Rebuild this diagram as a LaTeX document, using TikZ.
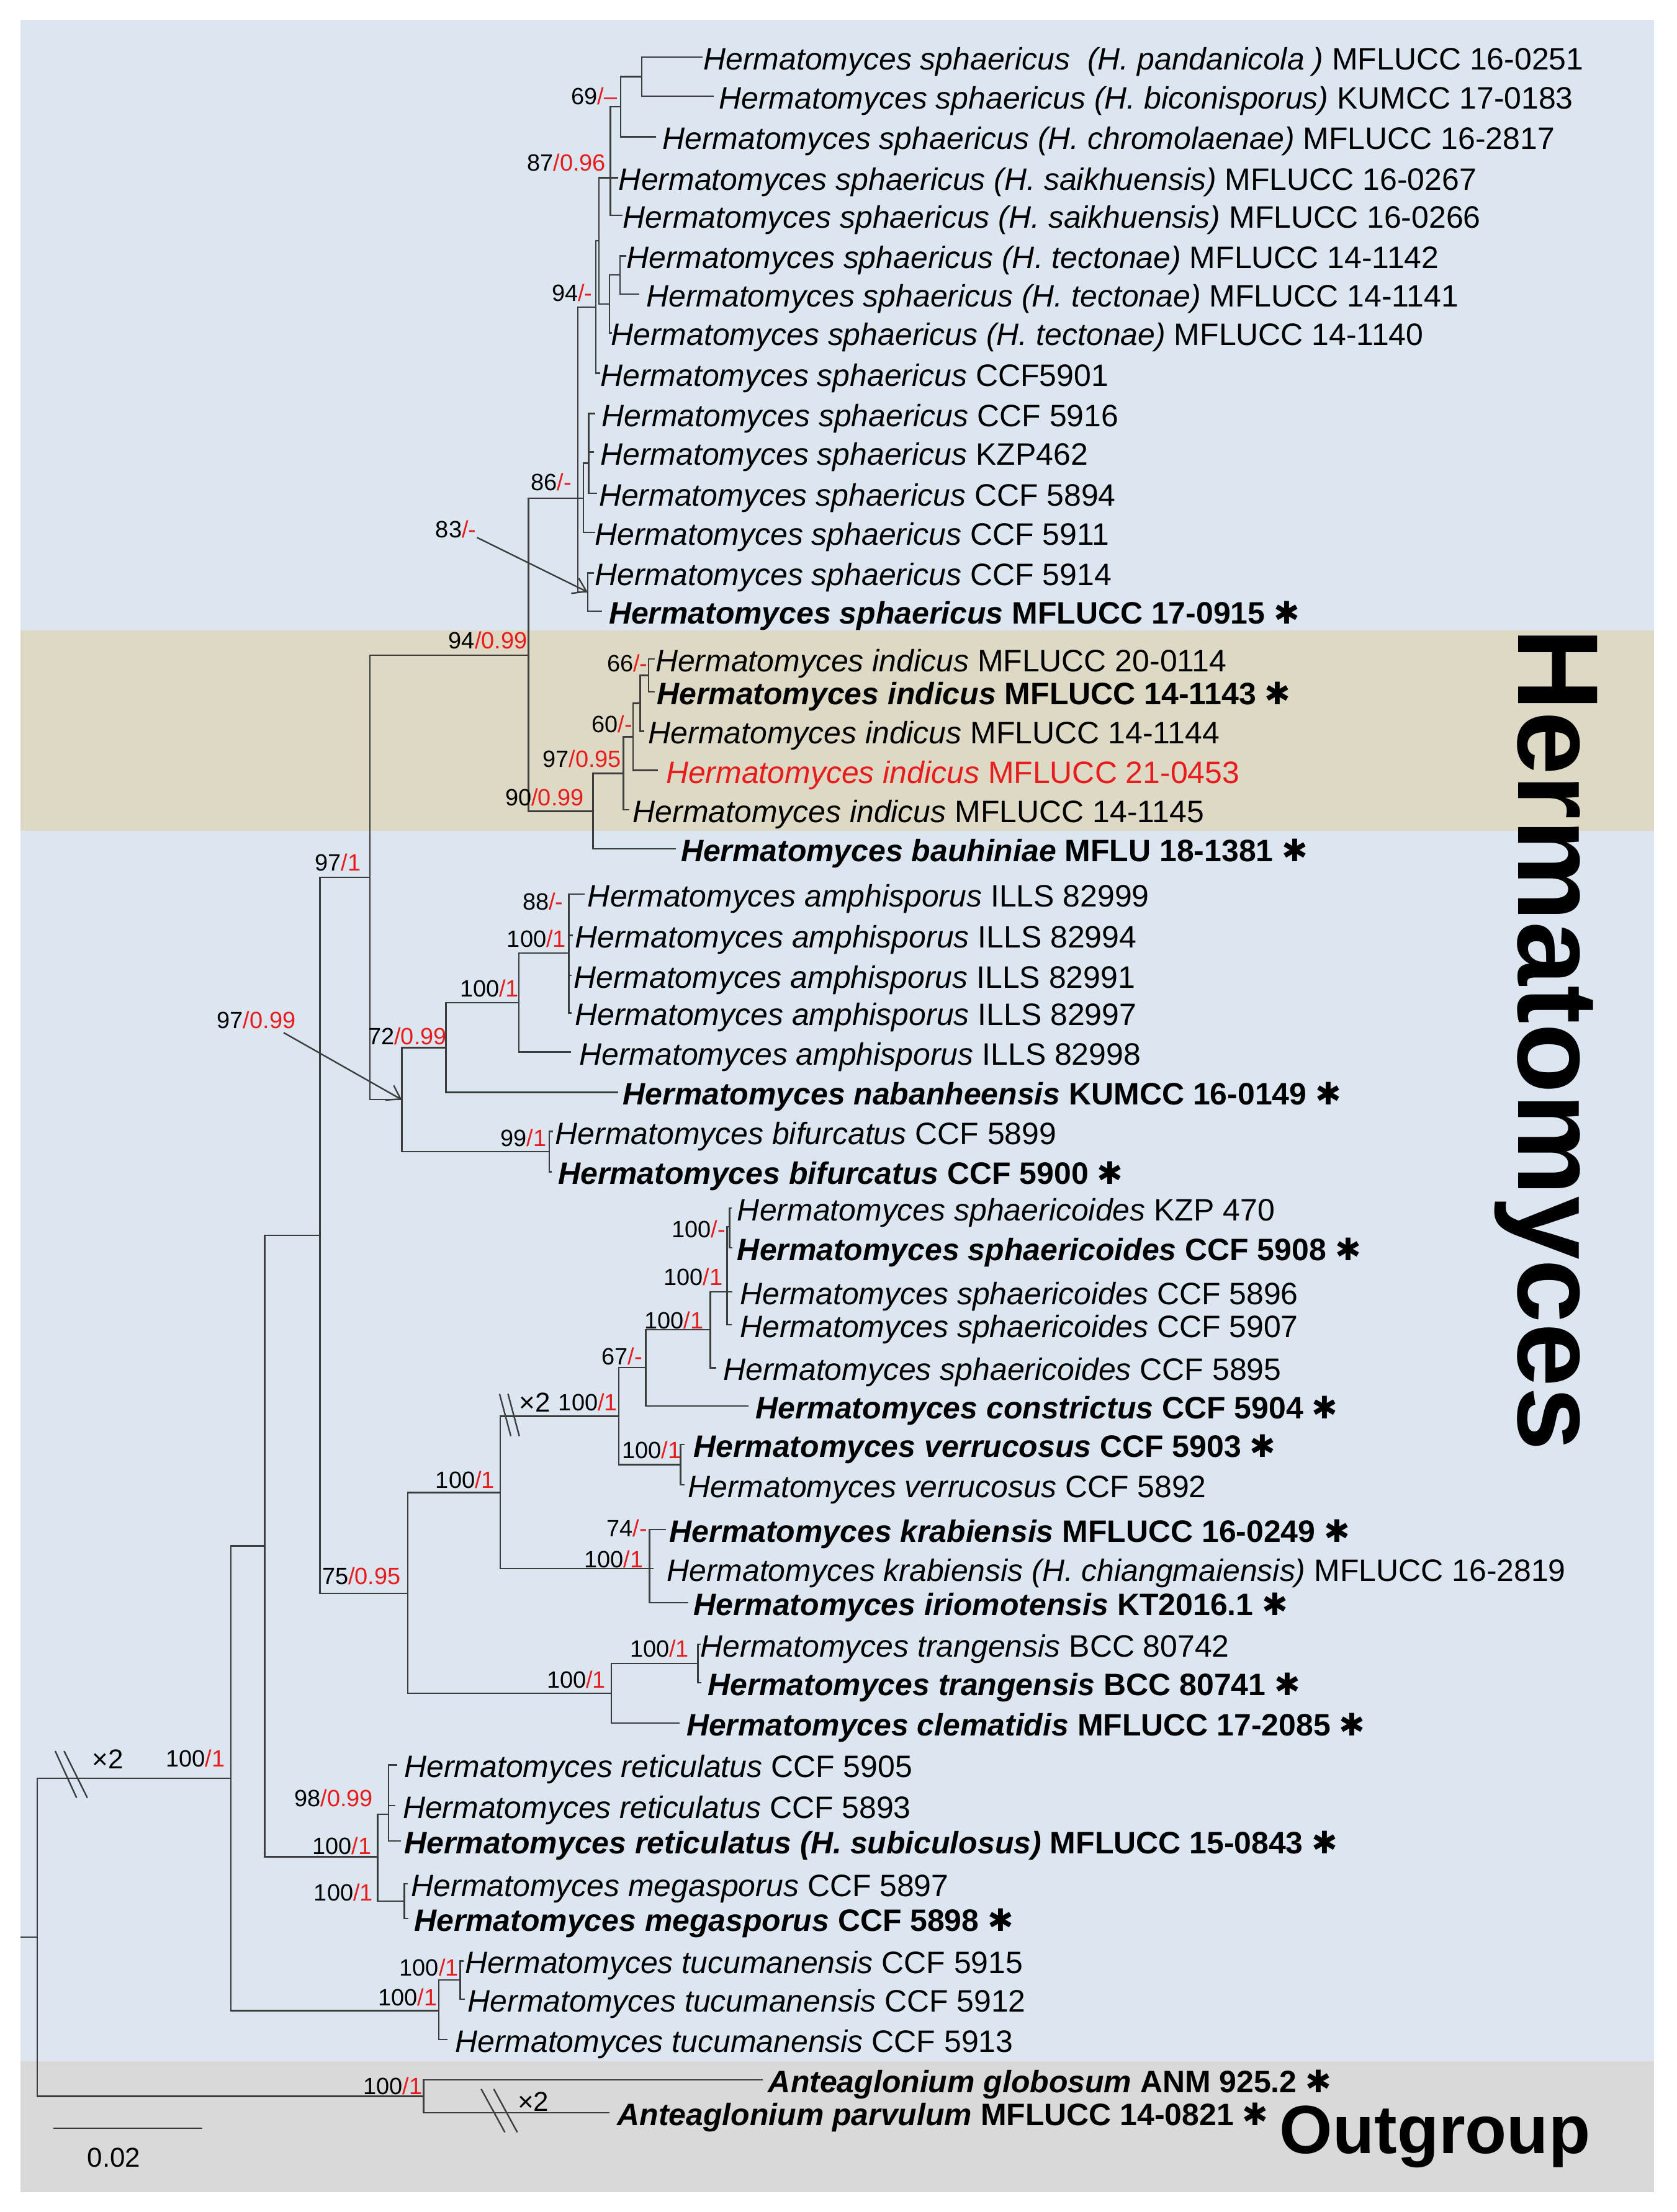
\documentclass[tikz,border=0pt]{standalone}
\usepackage{fontspec}
\setmainfont{Liberation Sans}
\newfontfamily\djv{DejaVu Sans}
\usetikzlibrary{arrows.meta}
\definecolor{bgblue}{RGB}{220,230,241}
\definecolor{bgtan}{RGB}{221,217,196}
\definecolor{bggrey}{RGB}{217,217,217}
\definecolor{tline}{RGB}{60,60,60}
\definecolor{supred}{RGB}{232,28,28}
\newcommand\tnode[4]{\coordinate (#1) at (#3,#4); \draw[br] (#1) -| (#2);}
\newcommand\tleaf[6]{\coordinate (#1) at (#3,#4); \draw[br] (#1) -| (#2); \node[tx,anchor=base west] (#1t) at ({#5-1.5},{#4+9}) {#6};}
\newcommand\tsup[5]{\node[sup,anchor=base east] (#1) at ({#2+0.5},{#3+6}) {#4\textcolor{supred}{#5}};}
\newcommand\tnorm[2]{\textit{#1} #2}
\newcommand\tbold[2]{\textbf{\textit{#1} #2} {\djv ✱}}
\begin{document}
\begin{tikzpicture}[x=0.02cm,y=-0.02cm,
  br/.style={draw=tline,line width=0.6pt},
  tx/.style={font=\fontsize{12.5}{15}\selectfont,inner sep=0,outer sep=0},
  sup/.style={font=\fontsize{9.5}{11}\selectfont,inner sep=0,outer sep=0},
  xs/.style={font=\fontsize{11}{13}\selectfont,inner sep=0,outer sep=0},
  arr/.style={draw=tline,line width=0.6pt,-{Straight Barb[length=1.8mm,width=2.4mm]}}]
\useasboundingbox (0,0) rectangle (1188,1568);
% backgrounds
\fill[bgblue] (14.4,14) rectangle (1172,1461);
\fill[bgtan] (14.4,447) rectangle (1172,589);
\fill[bggrey] (14.4,1461) rectangle (1172,1553.8);
% tree internal nodes
\coordinate (R) at (26.5,1373.2);
\coordinate (stub) at (14.4,1373.2);
\draw[br] (stub) -- (R);
\tnode{A}{R}{163.6}{1260.55}
\tnode{O}{R}{300.1}{1485.9}
\tnode{B}{A}{187.6}{1095.9}
\tnode{T1}{A}{311}{1425.2}
\tnode{T2}{T1}{326.2}{1403.55}
\tnode{C}{B}{226.8}{875.6}
\tnode{RM}{B}{267.6}{1316.2}
\tnode{RT}{RM}{275.2}{1286}
\tnode{MG}{RM}{286.5}{1347.65}
\tnode{D}{C}{262.2}{621.9}
\tnode{K}{C}{289}{1129.35}
\tnode{G}{D}{374.5}{464.35}
\tnode{E}{D}{284.7}{779.5}
\tnode{Nf}{G}{409.5}{353.3}
\tnode{I}{G}{420.2}{575.05}
\tnode{Ne}{Nf}{422.2}{217.65}
\tnode{Ng}{Nf}{413.4}{353.3}
\tnode{N83}{Nf}{416.4}{419.65}
\tnode{Na}{Ne}{424.4}{170.7}
\tnode{Nb}{Na}{432.5}{126}
\tnode{Nc}{Na}{431.8}{215.4}
\tnode{N69}{Nb}{439.8}{75.6}
\tnode{Ntop}{N69}{454.8}{54.3}
\tnode{Nd}{Nc}{439.4}{194.9}
\tnode{Nh}{Ng}{417.1}{328.4}
\tnode{J}{I}{441.8}{548.2}
\tnode{Kx}{J}{448.6}{522.3}
\tnode{Lx}{Kx}{453.6}{498.5}
\tnode{N66}{Lx}{459.5}{478.7}
\tnode{P}{E}{316.1}{742.65}
\tnode{Bif}{E}{389.2}{816.35}
\tnode{Q}{P}{367.6}{710.65}
\tnode{Amph}{Q}{403.1}{675.5}
\tnode{L}{K}{354.6}{1058}
\tnode{TC}{K}{433.1}{1200.4}
\tnode{V}{L}{438.6}{1003.9}
\tnode{M}{L}{460.2}{1112}
\tnode{S1}{V}{457.7}{969.25}
\tnode{Verr}{V}{482.2}{1038.25}
\tnode{S2}{S1}{503.4}{942.6}
\tnode{S3}{S2}{515.2}{915.6}
\tnode{S3a}{S3}{517}{869.45}
\tnode{Tr}{TC}{494.6}{1179.1}
% leaves
\tleaf{l1}{Ntop}{497.7}{40.4}{500}{\tnorm{Hermatomyces sphaericus\ \ (H. pandanicola\ )}{MFLUCC 16-0251}}
\tleaf{l2}{Ntop}{505.8}{68.2}{511}{\tnorm{Hermatomyces sphaericus (H. biconisporus)}{KUMCC 17-0183}}
\tleaf{l3}{N69}{464.7}{96.9}{471}{\tnorm{Hermatomyces sphaericus (H. chromolaenae)}{MFLUCC 16-2817}}
\tleaf{l4}{Nb}{438}{126}{440}{\tnorm{Hermatomyces sphaericus (H. saikhuensis)}{MFLUCC 16-0267}}
\tleaf{l5}{Nb}{441}{152.7}{443}{\tnorm{Hermatomyces sphaericus (H. saikhuensis)}{MFLUCC 16-0266}}
\tleaf{l6}{Nd}{444}{181.4}{445.5}{\tnorm{Hermatomyces sphaericus (H. tectonae)}{MFLUCC 14-1142}}
\tleaf{l7}{Nd}{453}{208.4}{459.5}{\tnorm{Hermatomyces sphaericus (H. tectonae)}{MFLUCC 14-1141}}
\tleaf{l8}{Nc}{433.5}{235.9}{434.5}{\tnorm{Hermatomyces sphaericus (H. tectonae)}{MFLUCC 14-1140}}
\tleaf{l9}{Ne}{425.5}{264.6}{427}{\tnorm{Hermatomyces sphaericus}{CCF5901}}
\tleaf{l10}{Nh}{422}{293.2}{428}{\tnorm{Hermatomyces sphaericus}{CCF 5916}}
\tleaf{l11}{Nh}{421}{320.5}{427}{\tnorm{Hermatomyces sphaericus}{KZP462}}
\tleaf{l12}{Nh}{423}{349.6}{426}{\tnorm{Hermatomyces sphaericus}{CCF 5894}}
\tleaf{l13}{Ng}{422}{377.5}{423}{\tnorm{Hermatomyces sphaericus}{CCF 5911}}
\tleaf{l14}{N83}{421}{406.1}{423}{\tnorm{Hermatomyces sphaericus}{CCF 5914}}
\tleaf{l15}{N83}{426.6}{433.2}{433}{\tbold{Hermatomyces sphaericus}{MFLUCC 17-0915}}
\tleaf{l16}{N66}{464}{467}{466}{\tnorm{Hermatomyces indicus}{MFLUCC 20-0114}}
\tleaf{l17}{N66}{464}{490.4}{467}{\tbold{Hermatomyces indicus}{MFLUCC 14-1143}}
\tleaf{l18}{Lx}{456.6}{518.3}{461}{\tnorm{Hermatomyces indicus}{MFLUCC 14-1144}}
\tleaf{l19}{Kx}{466.3}{546.1}{473.5}{\textcolor{supred}{\tnorm{Hermatomyces indicus}{MFLUCC 21-0453}}}
\tleaf{l20}{J}{446}{574}{450}{\tnorm{Hermatomyces indicus}{MFLUCC 14-1145}}
\tleaf{l21}{I}{479.1}{601.8}{484}{\tbold{Hermatomyces bauhiniae}{MFLU 18-1381}}
\tleaf{l22}{Amph}{414.2}{633.9}{418}{\tnorm{Hermatomyces amphisporus}{ILLS 82999}}
\tleaf{l23}{Amph}{406}{663}{409}{\tnorm{Hermatomyces amphisporus}{ILLS 82994}}
\tleaf{l24}{Amph}{405}{691.5}{408}{\tnorm{Hermatomyces amphisporus}{ILLS 82991}}
\tleaf{l25}{Amph}{405}{718}{409}{\tnorm{Hermatomyces amphisporus}{ILLS 82997}}
\tleaf{l26}{Q}{404.5}{745.8}{412}{\tnorm{Hermatomyces amphisporus}{ILLS 82998}}
\tleaf{l27}{P}{437.9}{774.3}{443}{\tbold{Hermatomyces nabanheensis}{KUMCC 16-0149}}
\tleaf{l28}{Bif}{392}{802.1}{395}{\tnorm{Hermatomyces bifurcatus}{CCF 5899}}
\tleaf{l29}{Bif}{391}{830.6}{397}{\tbold{Hermatomyces bifurcatus}{CCF 5900}}
\tleaf{l30}{S3a}{518.6}{856.4}{524}{\tnorm{Hermatomyces sphaericoides}{KZP 470}}
\tleaf{l31}{S3a}{519}{884.5}{524}{\tbold{Hermatomyces sphaericoides}{CCF 5908}}
\tleaf{l32}{S3}{519}{915.6}{526}{\tnorm{Hermatomyces sphaericoides}{CCF 5896}}
\tleaf{l33}{S3}{518.6}{939}{526}{\tnorm{Hermatomyces sphaericoides}{CCF 5907}}
\tleaf{l34}{S2}{507.4}{969.6}{514}{\tnorm{Hermatomyces sphaericoides}{CCF 5895}}
\tleaf{l35}{S1}{530.3}{996.7}{537}{\tbold{Hermatomyces constrictus}{CCF 5904}}
\tleaf{l36}{Verr}{485.2}{1024}{493}{\tbold{Hermatomyces verrucosus}{CCF 5903}}
\tleaf{l37}{Verr}{485}{1052.5}{489}{\tnorm{Hermatomyces verrucosus}{CCF 5892}}
\tleaf{l38}{M}{472}{1084.2}{476}{\tbold{Hermatomyces krabiensis}{MFLUCC 16-0249}}
\tleaf{l39}{M}{463}{1112}{474}{\tnorm{Hermatomyces krabiensis (H. chiangmaiensis)}{MFLUCC 16-2819}}
\tleaf{l40}{M}{487.7}{1136.2}{493}{\tbold{Hermatomyces iriomotensis}{KT2016.1}}
\tleaf{l41}{Tr}{496.5}{1165.5}{498}{\tnorm{Hermatomyces trangensis}{BCC 80742}}
\tleaf{l42}{Tr}{497}{1192.7}{503}{\tbold{Hermatomyces trangensis}{BCC 80741}}
\tleaf{l43}{TC}{481.8}{1221.3}{488}{\tbold{Hermatomyces clematidis}{MFLUCC 17-2085}}
\tleaf{l44}{RT}{281.5}{1251}{288}{\tnorm{Hermatomyces reticulatus}{CCF 5905}}
\tleaf{l45}{RT}{280}{1280}{287}{\tnorm{Hermatomyces reticulatus}{CCF 5893}}
\tleaf{l46}{RT}{284}{1305}{288}{\tbold{Hermatomyces reticulatus (H. subiculosus)}{MFLUCC 15-0843}}
\tleaf{l47}{MG}{289}{1335.3}{293}{\tnorm{Hermatomyces megasporus}{CCF 5897}}
\tleaf{l48}{MG}{289.5}{1360}{295}{\tbold{Hermatomyces megasporus}{CCF 5898}}
\tleaf{l49}{T2}{328.5}{1390}{331}{\tnorm{Hermatomyces tucumanensis}{CCF 5915}}
\tleaf{l50}{T2}{329.5}{1417.1}{333}{\tnorm{Hermatomyces tucumanensis}{CCF 5912}}
\tleaf{l51}{T1}{317}{1445.6}{324}{\tnorm{Hermatomyces tucumanensis}{CCF 5913}}
\tleaf{l52}{O}{540.4}{1474.2}{546}{\tbold{Anteaglonium globosum}{ANM 925.2}}
\tleaf{l53}{O}{432}{1497.6}{439}{\tbold{Anteaglonium parvulum}{MFLUCC 14-0821}}
% support values
\tsup{s1}{436.9}{67.9}{69}{/--}
\tsup{s2}{428.8}{115}{87}{/0.96}
\tsup{s3}{419.3}{207.7}{94}{/-}
\tsup{s4}{404.6}{341.6}{86}{/-}
\tsup{s5}{337}{375}{83}{/-}
\tsup{s6}{373.1}{453.8}{94}{/0.99}
\tsup{s7}{458.5}{469.9}{66}{/-}
\tsup{s8}{447.7}{513.1}{60}{/-}
\tsup{s9}{439.8}{538}{97}{/0.95}
\tsup{s10}{413.3}{565.2}{90}{/0.99}
\tsup{s11}{255.3}{611.4}{97}{/1}
\tsup{s12}{398.6}{639}{88}{/-}
\tsup{s13}{400.6}{665.5}{100}{/1}
\tsup{s14}{367.2}{700.5}{100}{/1}
\tsup{s15}{316.1}{734.5}{72}{/0.99}
\tsup{s16}{386.8}{806.5}{99}{/1}
\tsup{s17}{209}{723}{97}{/0.99}
\tsup{s18}{513.7}{871.2}{100}{/-}
\tsup{s19}{511.7}{905.1}{100}{/1}
\tsup{s20}{497.9}{936}{100}{/1}
\tsup{s21}{454.7}{961.5}{67}{/-}
\tsup{s22}{437.1}{993.8}{100}{/1}
\tsup{s23}{482.2}{1027.8}{100}{/1}
\tsup{s24}{350}{1049}{100}{/1}
\tsup{s25}{458.3}{1083.4}{74}{/-}
\tsup{s26}{455.3}{1105.4}{100}{/1}
\tsup{s27}{283.5}{1117.2}{75}{/0.95}
\tsup{s28}{487.7}{1168.5}{100}{/1}
\tsup{s29}{428.8}{1190.5}{100}{/1}
\tsup{s30}{159}{1246.6}{100}{/1}
\tsup{s31}{263.8}{1274.4}{98}{/0.99}
\tsup{s32}{262.6}{1308.3}{100}{/1}
\tsup{s33}{263.8}{1341.5}{100}{/1}
\tsup{s34}{324.4}{1394.7}{100}{/1}
\tsup{s35}{309.3}{1415.6}{100}{/1}
\tsup{s36}{298.7}{1478.6}{100}{/1}
% arrows from labels
\coordinate (a1s) at (338,381);
\draw[arr] (a1s) -- (N83);
\coordinate (a2s) at (201,732);
\draw[arr] (a2s) -- (E);
% break marks
\draw[br] (39.1,1241.2) -- (54.3,1274.4);
\draw[br] (45.4,1241.2) -- (61.9,1274.4);
\draw[br] (341,1480.8) -- (357.8,1511.5);
\draw[br] (349.9,1480.8) -- (366.6,1511.5);
\draw[br] (354,988) -- (362,1018);
\draw[br] (360,988) -- (368,1018);
\node[xs,anchor=base] (x2a) at (76.4,1253.6) {×2};
\node[xs,anchor=base] (x2b) at (377.9,1496.6) {×2};
\node[xs,anchor=base] (x2c) at (379,1001) {×2};
% scale bar
\coordinate (sb1) at (37.9,1508.6);
\coordinate (sb2) at (143.6,1508.6);
\draw[br] (sb1) -- (sb2);
\node[xs,anchor=base] (sbt) at (80.7,1536) {0.02};
% clade labels
\node[font=\fontsize{46.3}{50}\selectfont\bfseries,rotate=-90,anchor=base west,inner sep=0] (clH) at (1076.1,445) {Hermatomyces};
\node[font=\fontsize{27.5}{30}\selectfont\bfseries,anchor=base west,inner sep=0] (clO) at (906.5,1526.2) {Outgroup};
\end{tikzpicture}
\end{document}
